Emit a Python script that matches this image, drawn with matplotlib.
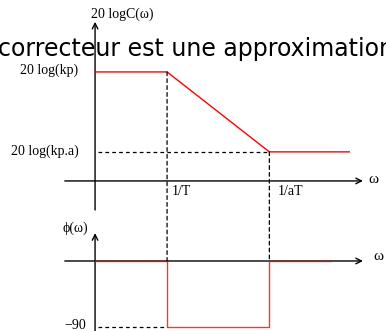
import matplotlib.pyplot as plt
from matplotlib.patches import ConnectionPatch

# break frequencies (1/T scaled to 1) and end of the drawn asymptotes
w_T = 1.0
w_aT = 2.42
w_end_gain = 3.53
w_end_phase = 3.27

# gain levels: 20 log(kp) and 20 log(kp.a)
gain_kp = 3.0
gain_kpa = 0.8

# phase of the idealised corrector
phase_w = [0.0, w_T, w_T, w_aT, w_aT, w_end_phase]
phase_deg = [0, 0, -90, -90, 0, 0]

gain_w = [0.0, w_T, w_aT, w_end_gain]
gain_db = [gain_kp, gain_kp, gain_kpa, gain_kpa]

fig = plt.figure(figsize=(3.86, 3.31), dpi=100)
ax1 = fig.add_axes([0, 0, 1, 1])
ax2 = fig.add_axes([0, 0, 1, 1])
for ax in (ax1, ax2):
    ax.set_axis_off()
    ax.patch.set_alpha(0)
    ax.set_xlim(-1.32, 4.04)
ax1.set_ylim(-4.13, 4.98)
ax2.set_ylim(-95.5, 356)

serif = 'Liberation Serif'
dash = (0, (3, 2.5))
arrow = dict(arrowstyle='->', color='black', lw=1.0, shrinkA=0, shrinkB=0,
             mutation_scale=10)

# gain diagram axes
ax1.annotate('', xy=(0, 4.38), xytext=(0, -0.8), arrowprops=arrow)
ax1.annotate('', xy=(3.72, 0), xytext=(-0.42, 0), arrowprops=arrow)
ax1.plot(gain_w, gain_db, color='red', lw=1.0, zorder=3)
ax1.plot([0.04, w_aT], [gain_kpa, gain_kpa], color='black', lw=0.9, ls=dash)

ax1.text(0.375, 4.6, '20 logC(ω)', family=serif, fontsize=10, ha='center', va='center')
ax1.text(-0.23, gain_kp + 0.05, '20 log(kp)', family=serif, fontsize=10, ha='right', va='center')
ax1.text(-0.23, gain_kpa + 0.03, '20 log(kp.a)', family=serif, fontsize=10, ha='right', va='center')
ax1.text(w_T + 0.07, -0.28, '1/T', family=serif, fontsize=10, ha='left', va='center')
ax1.text(w_aT + 0.12, -0.28, '1/aT', family=serif, fontsize=10, ha='left', va='center')
ax1.text(3.87, 0.03, 'ω', family=serif, fontsize=11, ha='center', va='center')

# phase diagram axes
ax2.annotate('', xy=(0, 38), xytext=(0, -96), arrowprops=arrow)
ax2.annotate('', xy=(3.72, 0), xytext=(-0.42, 0), arrowprops=arrow)
ax2.plot(phase_w, phase_deg, color='red', lw=1.0, alpha=0.8, zorder=3)
ax2.plot([0.04, w_T], [-90, -90], color='black', lw=0.9, ls=dash)

ax2.text(-0.28, 44, 'ϕ(ω)', family=serif, fontsize=10, ha='center', va='center')
ax2.text(-0.12, -88, '−90', family=serif, fontsize=10, ha='right', va='center')
ax2.text(3.93, 6, 'ω', family=serif, fontsize=11, ha='center', va='center')

# dashed guides from the break points down to the phase axis
for w, g in [(w_T, gain_kp), (w_aT, gain_kpa)]:
    con = ConnectionPatch(xyA=(w, g), coordsA=ax1.transData,
                          xyB=(w, 0), coordsB=ax2.transData,
                          color='black', lw=0.9, ls=dash)
    fig.add_artist(con)

fig.text(-0.004, 0.852, 'correcteur est une approximation', fontsize=17,
         family='DejaVu Sans', ha='left', va='center')

fig.savefig('out.png', dpi=100)
